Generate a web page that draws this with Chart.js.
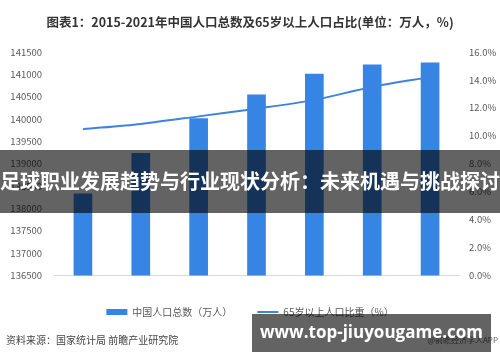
<!DOCTYPE html>
<html><head><meta charset="utf-8">
<script src="https://cdn.jsdelivr.net/npm/chart.js@4/dist/chart.umd.min.js"></script>
<style>
html,body{margin:0;padding:0;background:#fff;}
#wrap{position:relative;width:500px;height:362px;overflow:hidden;font-family:'Noto Sans CJK SC',sans-serif;}
#c{position:absolute;left:0;top:0;}
#src{position:absolute;left:6px;top:332px;font-size:10px;color:#444;white-space:nowrap;}
#app{position:absolute;right:2px;top:334px;font-size:8px;color:#666;white-space:nowrap;}
#banner{position:absolute;left:0;top:150px;width:500px;height:63px;background:rgba(0,0,0,0.61);color:#fff;font-size:20px;font-weight:bold;line-height:63px;text-align:center;white-space:nowrap;overflow:hidden;margin-top:0;}
#banner span{position:relative;top:-1px;}
#wm{position:absolute;left:252px;top:314px;width:239px;height:38px;background:rgba(0,0,0,0.61);color:#fff;font-family:'Open Sans',sans-serif;font-weight:bold;font-size:17px;line-height:36px;text-align:center;white-space:nowrap;}
</style></head>
<body>
<div id="wrap">
<canvas id="c" width="500" height="362"></canvas>
<div id="src">资料来源：国家统计局 前瞻产业研究院</div>
<div id="app">@前瞻经济学人APP</div>
<div id="banner"><span>足球职业发展趋势与行业现状分析：未来机遇与挑战探讨</span></div>
<div id="wm">www.top-jiuyougame.com</div>
</div>
<script>
const years = ['2015','2016','2017','2018','2019','2020','2021'];
const population = [138326, 139232, 140011, 140541, 141008, 141212, 141260];
const over65Share = [10.47, 10.85, 11.39, 11.94, 12.57, 13.50, 14.20];
const titleText = '图表1：2015-2021年中国人口总数及65岁以上人口占比(单位：万人，%)';
const seriesNames = ['中国人口总数（万人）', '65岁以上人口比重（%）'];

Chart.defaults.font.family = "'Noto Sans CJK SC', sans-serif";
Chart.defaults.color = '#595959';

new Chart(document.getElementById('c'), {
  data: {
    labels: years,
    datasets: [
      {
        type: 'bar',
        label: seriesNames[0],
        data: population,
        backgroundColor: '#3685e4',
        borderWidth: 0,
        barThickness: 18,
        yAxisID: 'y',
        order: 1,
        pointStyle: 'rect'
      },
      {
        type: 'line',
        label: seriesNames[1],
        data: over65Share,
        borderColor: '#3f82e0',
        backgroundColor: '#3f82e0',
        borderWidth: 2,
        pointRadius: 0,
        tension: 0.3,
        yAxisID: 'y1',
        order: 0,
        pointStyle: 'line'
      }
    ]
  },
  options: {
    responsive: false,
    animation: false,
    layout: { padding: { left: 0, right: 0, top: 0, bottom: 35 } },
    plugins: {
      title: {
        display: true,
        text: titleText,
        color: '#333',
        font: { size: 12.5, weight: 'bold' },
        padding: { top: 15, bottom: 22 }
      },
      legend: {
        position: 'bottom',
        labels: {
          usePointStyle: true,
          pointStyleWidth: 21,
          boxHeight: 6,
          padding: 25,
          color: '#595959',
          font: { size: 10 },
          sort: (a, b) => a.datasetIndex - b.datasetIndex
        }
      },
      tooltip: { enabled: false }
    },
    scales: {
      x: {
        grid: { display: false, drawTicks: false },
        border: { display: true, color: '#d9d9d9' },
        ticks: { padding: 8, font: { size: 9.5 }, color: '#595959' },
        afterFit: s => { s.height = 6.6; }
      },
      y: {
        position: 'left',
        min: 136500, max: 141500,
        grid: { display: false, drawTicks: false },
        border: { display: false },
        ticks: { stepSize: 500, padding: 12, font: { size: 9.5 }, color: '#595959',
          callback: v => String(v) },
        afterFit: s => { s.width = 54; }
      },
      y1: {
        position: 'right',
        min: 0, max: 16,
        grid: { display: false, drawTicks: false },
        border: { display: false },
        ticks: { stepSize: 2, padding: 10, font: { size: 9.5 }, color: '#595959',
          callback: v => Number(v).toFixed(1) + '%' },
        afterFit: s => { s.width = 41; }
      }
    }
  }
});
</script>
</body></html>
